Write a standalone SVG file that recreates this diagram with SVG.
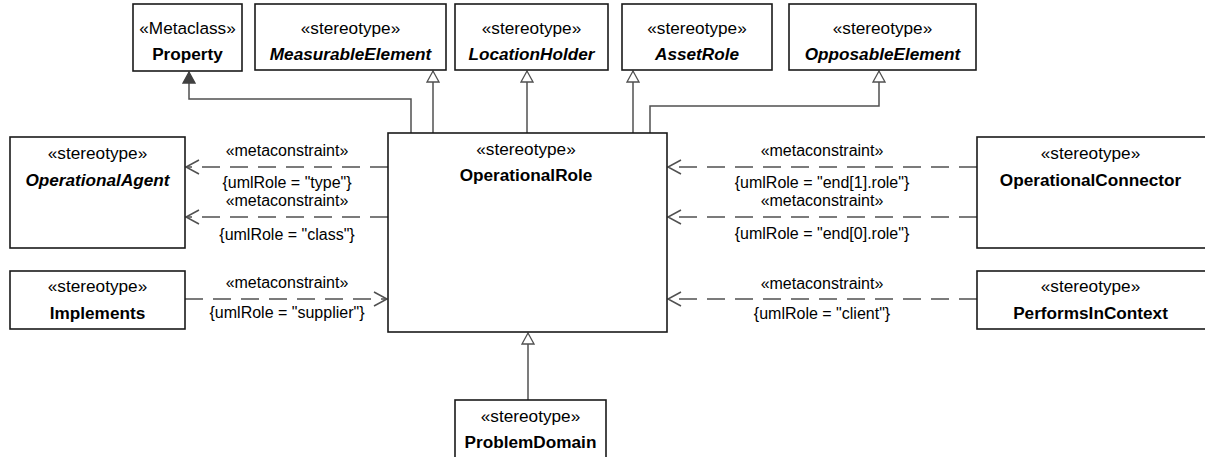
<svg xmlns="http://www.w3.org/2000/svg" width="1205" height="457" viewBox="0 0 1205 457">
<defs>
<style>
.box{fill:#fff;stroke:#1a1a1a;stroke-width:1.6}
.st{font-family:"Liberation Sans",Arial,sans-serif;font-size:17.2px;fill:#000;text-anchor:middle}
.nm{font-family:"Liberation Sans",Arial,sans-serif;font-size:17.2px;font-weight:bold;fill:#000;text-anchor:middle}
.it{font-style:italic}
.lb{font-family:"Liberation Sans",Arial,sans-serif;font-size:16px;fill:#000;text-anchor:middle}
.ln{fill:none;stroke:#505050;stroke-width:1.5}
.dash{fill:none;stroke:#505050;stroke-width:1.5;stroke-dasharray:18 10}
</style>
<marker id="gen" markerWidth="16" markerHeight="14" refX="12" refY="7" orient="auto" markerUnits="userSpaceOnUse">
<path d="M1,1 L12,7 L1,13 Z" fill="#fff" stroke="#505050" stroke-width="1.3"/>
</marker>
<marker id="genf" markerWidth="16" markerHeight="14" refX="12" refY="7" orient="auto" markerUnits="userSpaceOnUse">
<path d="M1,1 L12,7 L1,13 Z" fill="#404040" stroke="#404040" stroke-width="1.3"/>
</marker>
<marker id="open" markerWidth="16" markerHeight="16" refX="14" refY="8" orient="auto" markerUnits="userSpaceOnUse">
<path d="M1,1 L14,8 L1,15" fill="none" stroke="#505050" stroke-width="1.5"/>
</marker>
</defs>
<g id="connectors">
<path class="ln" d="M411,133 V99 H189 V72" marker-end="url(#genf)"/>
<path class="ln" d="M433,133 V71" marker-end="url(#gen)"/>
<path class="ln" d="M527,133 V71" marker-end="url(#gen)"/>
<path class="ln" d="M633,133 V71" marker-end="url(#gen)"/>
<path class="ln" d="M650,133 V106 H879 V71" marker-end="url(#gen)"/>
<path class="ln" d="M528,400 V333" marker-end="url(#gen)"/>
<path class="dash" d="M388,167 H186" marker-end="url(#open)"/>
<path class="dash" d="M388,217 H186" marker-end="url(#open)"/>
<path class="dash" d="M185,299 H387" marker-end="url(#open)"/>
<path class="dash" d="M977,167 H668" marker-end="url(#open)"/>
<path class="dash" d="M977,217 H668" marker-end="url(#open)"/>
<path class="dash" d="M977,299 H668" marker-end="url(#open)"/>
<text class="lb" x="287" y="156">«metaconstraint»</text>
<text class="lb" x="287" y="188">{umlRole = "type"}</text>
<text class="lb" x="287" y="206">«metaconstraint»</text>
<text class="lb" x="287" y="240">{umlRole = "class"}</text>
<text class="lb" x="287" y="288">«metaconstraint»</text>
<text class="lb" x="287" y="318">{umlRole = "supplier"}</text>
<text class="lb" x="822" y="156">«metaconstraint»</text>
<text class="lb" x="822" y="188">{umlRole = "end[1].role"}</text>
<text class="lb" x="822" y="206">«metaconstraint»</text>
<text class="lb" x="822" y="239">{umlRole = "end[0].role"}</text>
<text class="lb" x="822" y="289">«metaconstraint»</text>
<text class="lb" x="822" y="319">{umlRole = "client"}</text>
</g>
<g id="Property">
<rect class="box" x="133" y="4" width="109" height="67"/>
<text class="st" x="187.5" y="34">«Metaclass»</text>
<text class="nm" x="187.5" y="60">Property</text>
</g>
<g id="MeasurableElement">
<rect class="box" x="255" y="4" width="191" height="66"/>
<text class="st" x="350.5" y="34">«stereotype»</text>
<text class="nm it" x="350.5" y="60">MeasurableElement</text>
</g>
<g id="LocationHolder">
<rect class="box" x="455" y="4" width="153" height="66"/>
<text class="st" x="531.5" y="34">«stereotype»</text>
<text class="nm it" x="531.5" y="60">LocationHolder</text>
</g>
<g id="AssetRole">
<rect class="box" x="622" y="4" width="150" height="66"/>
<text class="st" x="697" y="34">«stereotype»</text>
<text class="nm it" x="697" y="60">AssetRole</text>
</g>
<g id="OpposableElement">
<rect class="box" x="789" y="4" width="187" height="66"/>
<text class="st" x="882.5" y="34">«stereotype»</text>
<text class="nm it" x="882.5" y="60">OpposableElement</text>
</g>
<g id="OperationalRole">
<rect class="box" x="388" y="133" width="279" height="199"/>
<text class="st" x="526" y="155">«stereotype»</text>
<text class="nm" x="526" y="181">OperationalRole</text>
</g>
<g id="OperationalAgent">
<rect class="box" x="10" y="137" width="175" height="111"/>
<text class="st" x="97.5" y="159">«stereotype»</text>
<text class="nm it" x="97.5" y="186">OperationalAgent</text>
</g>
<g id="Implements">
<rect class="box" x="10" y="271" width="175" height="58"/>
<text class="st" x="97.5" y="292">«stereotype»</text>
<text class="nm" x="97.5" y="319">Implements</text>
</g>
<g id="OperationalConnector">
<rect class="box" x="977" y="137" width="240" height="111"/>
<text class="st" x="1090.5" y="159">«stereotype»</text>
<text class="nm" x="1090.5" y="186">OperationalConnector</text>
</g>
<g id="PerformsInContext">
<rect class="box" x="977" y="271" width="240" height="58"/>
<text class="st" x="1090.5" y="292">«stereotype»</text>
<text class="nm" x="1090.5" y="319">PerformsInContext</text>
</g>
<g id="ProblemDomain">
<rect class="box" x="455" y="400" width="151" height="60"/>
<text class="st" x="530.5" y="422">«stereotype»</text>
<text class="nm" x="530.5" y="448">ProblemDomain</text>
</g>
</svg>
